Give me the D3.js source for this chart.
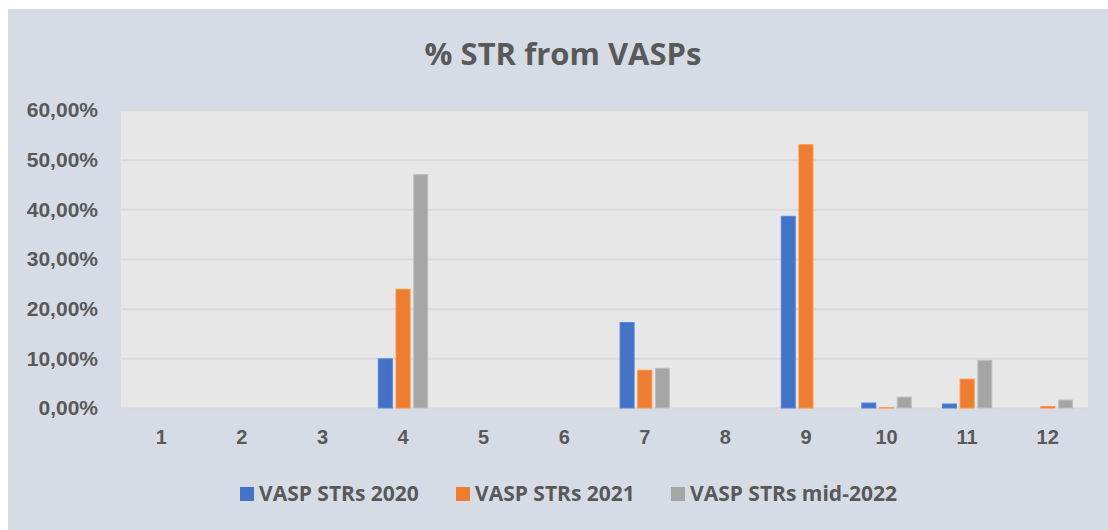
<!DOCTYPE html>
<html>
<head>
<meta charset="utf-8">
<script src="https://cdn.jsdelivr.net/npm/d3@7"></script>
<style>
  body { margin: 0; background: #fff; }
  svg { display: block; font-family: "Open Sans", Lato, sans-serif; }
</style>
</head>
<body>
<svg width="1108" height="530"></svg>
<script>
/* ---------------- data ---------------- */
var categories = ['1', '2', '3', '4', '5', '6', '7', '8', '9', '10', '11', '12'];
var seriesNames = ['VASP STRs 2020', 'VASP STRs 2021', 'VASP STRs mid-2022'];
var str2020 = [0, 0, 0, 9.9, 0, 0, 17.2, 0, 38.6, 1.0, 0.8, 0];
var str2021 = [0, 0, 0, 23.9, 0, 0, 7.6, 0, 53.0, 0.05, 5.8, 0.3];
var strMid2022 = [0, 0, 0, 47.0, 0, 0, 8.0, 0, 0, 2.2, 9.6, 1.6];
var yTicks = [0, 10, 20, 30, 40, 50, 60];

var colors = ['#4472C4', '#ED7D31', '#A5A5A5'];
var allSeries = [str2020, str2021, strMid2022];

/* ---------------- layout ---------------- */
var svg = d3.select('svg');
var plot = { left: 121, right: 1088, top: 110, bottom: 408 };
var textColor = '#595959';

// chart background
svg.append('rect')
  .attr('x', 8).attr('y', 9)
  .attr('width', 1100).attr('height', 521)
  .attr('fill', '#D6DCE5');

svg.append('rect')
  .attr('x', plot.left).attr('y', plot.top)
  .attr('width', plot.right - plot.left).attr('height', plot.bottom - plot.top)
  .attr('fill', '#E7E7E7');

// title
svg.append('text')
  .attr('x', 563).attr('y', 65)
  .attr('text-anchor', 'middle')
  .attr('font-size', 31).attr('font-weight', 'bold')
  .attr('fill', textColor)
  .text('% STR from VASPs');

/* ---------------- scales ---------------- */
var x = d3.scaleBand()
  .domain(categories)
  .range([plot.left, plot.right]);

var x1 = d3.scaleBand()
  .domain(d3.range(3))
  .range([0, x.bandwidth()])
  .paddingInner(0.21)
  .paddingOuter(0.88);

var y = d3.scaleLinear()
  .domain([0, 60])
  .range([plot.bottom, plot.top]);

// gridlines + y axis labels
var yAxis = d3.axisLeft(y)
  .tickValues(yTicks)
  .tickSize(-(plot.right - plot.left))
  .tickPadding(23)
  .tickFormat(function (d) { return d3.format('.2f')(d).replace('.', ',') + '%'; });

var gy = svg.append('g')
  .attr('transform', 'translate(' + plot.left + ',0)')
  .call(yAxis);
gy.select('.domain').remove();
gy.selectAll('line').attr('stroke', '#D9D9D9').attr('stroke-width', 2);
gy.selectAll('text')
  .attr('font-size', 21).attr('font-weight', 'bold')
  .attr('fill', textColor);

// x axis labels
var xAxis = d3.axisBottom(x).tickSize(0).tickPadding(22);
var gx = svg.append('g')
  .attr('transform', 'translate(0,' + plot.bottom + ')')
  .call(xAxis);
gx.select('.domain').remove();
gx.selectAll('text')
  .attr('font-size', 20).attr('font-weight', 'bold')
  .attr('fill', textColor);

/* ---------------- bars ---------------- */
allSeries.forEach(function (vals, si) {
  svg.append('g')
    .selectAll('rect')
    .data(vals)
    .enter().append('rect')
    .attr('x', function (d, i) { return x(categories[i]) + x1(si); })
    .attr('y', function (d) { return y(d); })
    .attr('width', x1.bandwidth())
    .attr('height', function (d) { return plot.bottom - y(d); })
    .attr('fill', colors[si])
    .attr('stroke', d3.color(colors[si]).brighter(0.4))
    .attr('stroke-width', 1);
});

/* ---------------- legend ---------------- */
var legendX = [240, 456, 671];
var legend = svg.append('g');
seriesNames.forEach(function (name, i) {
  legend.append('rect')
    .attr('x', legendX[i]).attr('y', 487)
    .attr('width', 14).attr('height', 14)
    .attr('fill', colors[i]);
  legend.append('text')
    .attr('x', legendX[i] + 19).attr('y', 501)
    .attr('font-size', 21).attr('font-weight', 'bold')
    .attr('fill', textColor)
    .text(name);
});
</script>
</body>
</html>
